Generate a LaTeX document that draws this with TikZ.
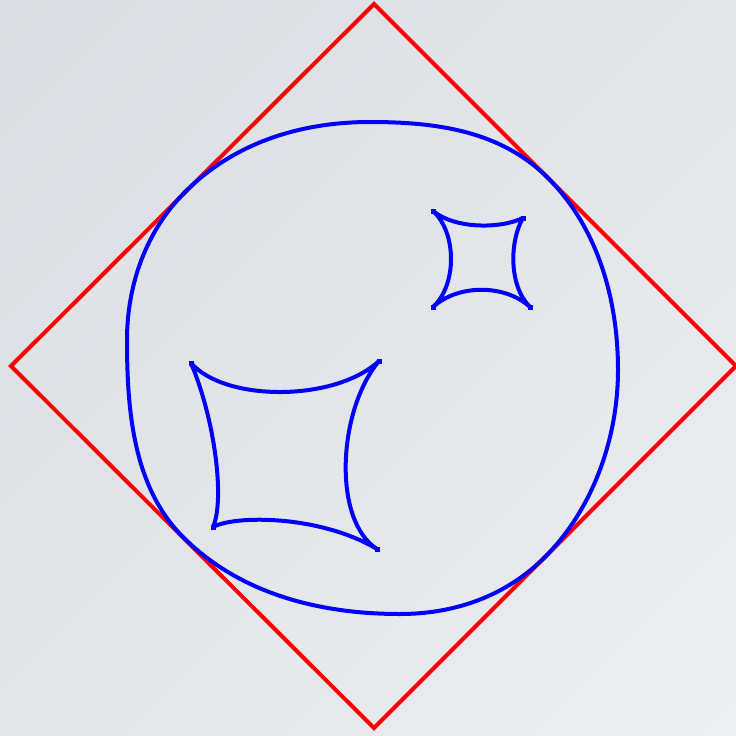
\documentclass[tikz,border=0pt]{standalone}
\usetikzlibrary{shadings}
\begin{document}
\begin{tikzpicture}[x=1pt,y=-1pt,
  redline/.style={draw={rgb,255:red,255;green,0;blue,0},line width=4pt,line join=miter},
  blueline/.style={draw={rgb,255:red,0;green,0;blue,255},line width=4pt,line join=round},
  cusp/.style={fill={rgb,255:red,0;green,0;blue,255},minimum size=5pt,inner sep=0pt,shape=rectangle}]
\definecolor{bgA}{RGB}{218,221,225}
\definecolor{bgM}{RGB}{227,229,233}
\definecolor{bgB}{RGB}{236,238,241}
\shade[upper left=bgA,lower right=bgB,upper right=bgM,lower left=bgM] (0,0) rectangle (736,736);
\useasboundingbox (0,0) rectangle (736,736);
% diamond
\coordinate (dt) at (374,4);
\coordinate (dr) at (736,366);
\coordinate (db) at (374,728);
\coordinate (dl) at (11,366);
\draw[redline] (dt) -- (dr) -- (db) -- (dl) -- cycle;
% big closed curve
\coordinate (p1) at (370,122);
\coordinate (p2) at (548,178);
\coordinate (p3) at (618,370);
\coordinate (p4) at (545,557);
\coordinate (p5) at (400,614);
\coordinate (p6) at (183,537);
\coordinate (p7) at (127,340);
\coordinate (p8) at (185,192);
\draw[blueline] (p1) .. controls (437,122) and (501,131) .. (p2)
  .. controls (598,228) and (618,300) .. (p3)
  .. controls (618,438) and (593,509) .. (p4)
  .. controls (506,596) and (455,614) .. (p5)
  .. controls (320,614) and (240,594) .. (p6)
  .. controls (133,487) and (127,410) .. (p7)
  .. controls (127,285) and (146,231) .. (p8)
  .. controls (234,143) and (300,122) .. (p1) -- cycle;
% large star
\coordinate (a1) at (191,363);
\coordinate (a2) at (379,361);
\coordinate (a3) at (377,549);
\coordinate (a4) at (213,527);
\draw[blueline] (a1) .. controls (225,402) and (335,402) .. (a2)
  .. controls (338,410) and (332,520) .. (a3)
  .. controls (320,515) and (235,515) .. (a4)
  .. controls (225,500) and (215,420) .. (a1);
% small star
\coordinate (b1) at (433,211);
\coordinate (b2) at (523,218);
\coordinate (b3) at (530,307);
\coordinate (b4) at (433,307);
\draw[blueline] (b1) .. controls (455,229) and (500,229) .. (b2)
  .. controls (510,240) and (508,285) .. (b3)
  .. controls (505,284) and (458,284) .. (b4)
  .. controls (457,285) and (457,233) .. (b1);
\foreach \c in {a1,a2,a3,a4,b1,b2,b3,b4} \node[cusp] at (\c) {};
\end{tikzpicture}
\end{document}
